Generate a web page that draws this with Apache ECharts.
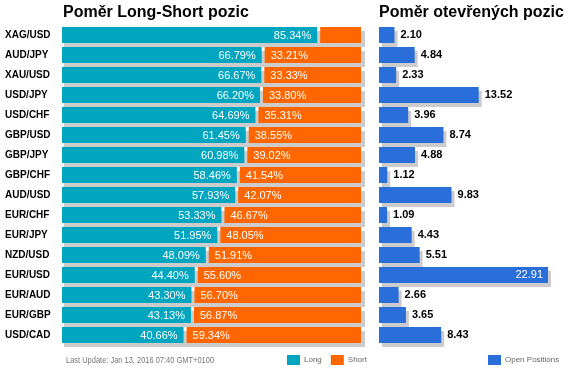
<!DOCTYPE html>
<html><head><meta charset="utf-8">
<script src="https://cdn.jsdelivr.net/npm/echarts@6/dist/echarts.min.js"></script>
<style>html,body{margin:0;padding:0;background:#fff}#c{width:569px;height:371px}</style>
</head><body><div id="c"></div>
<script>
var pairs = ['XAG/USD','AUD/JPY','XAU/USD','USD/JPY','USD/CHF','GBP/USD','GBP/JPY','GBP/CHF','AUD/USD','EUR/CHF','EUR/JPY','NZD/USD','EUR/USD','EUR/AUD','EUR/GBP','USD/CAD'];
var longPct = [85.34,66.79,66.67,66.20,64.69,61.45,60.98,58.46,57.93,53.33,51.95,48.09,44.40,43.30,43.13,40.66];
var shortPct = [14.66,33.21,33.33,33.80,35.31,38.55,39.02,41.54,42.07,46.67,48.05,51.91,55.60,56.70,56.87,59.34];
var openPos = [2.10,4.84,2.33,13.52,3.96,8.74,4.88,1.12,9.83,1.09,4.43,5.51,22.91,2.66,3.65,8.43];

var TEAL = '#00A5C0', ORANGE = '#FF6600', BLUE = '#2A6FD9', SHADOW = '#CCCCCC';
var FONT = 'Liberation Sans, Arial, sans-serif';

var lsData = pairs.map(function(p, i){ return [i, longPct[i], shortPct[i]]; });
var maxOpen = Math.max.apply(null, openPos);

var chart = echarts.init(document.getElementById('c'), null, {renderer:'canvas'});
chart.setOption({
  animation: false,
  title: [
    {text: 'Poměr Long-Short pozic', left: 63, top: 5, padding: 0, textStyle: {fontFamily: FONT, fontSize: 16, fontWeight: 'bold', color: '#000'}},
    {text: 'Poměr otevřených pozic', left: 379, top: 5, padding: 0, textStyle: {fontFamily: FONT, fontSize: 16, fontWeight: 'bold', color: '#000'}}
  ],
  legend: [
    {data: ['Long', 'Short'], left: 287, top: 355, padding: 0, itemWidth: 13, itemHeight: 10, itemGap: 9, icon: 'rect',
     textStyle: {fontFamily: FONT, fontSize: 8, color: '#666', padding: [0,0,0,-1]}},
    {data: ['Open Positions'], left: 488, top: 355, padding: 0, itemWidth: 13, itemHeight: 10, icon: 'rect',
     textStyle: {fontFamily: FONT, fontSize: 8, color: '#666', padding: [0,0,0,-1]}}
  ],
  graphic: [
    {type: 'text', x: 66, y: 356, scaleX: 0.83, style: {text: 'Last Update: Jan 13, 2016 07:40 GMT+0100', fontFamily: FONT, fontSize: 9, fill: '#777'}}
  ],
  grid: [
    {left: 62, top: 25, width: 299, height: 320},
    {left: 379, top: 25, width: 169, height: 320}
  ],
  xAxis: [
    {gridIndex: 0, type: 'value', min: 0, max: 100, show: false},
    {gridIndex: 1, type: 'value', min: 0, max: maxOpen, show: false}
  ],
  yAxis: [
    {gridIndex: 0, type: 'category', data: pairs, inverse: true,
     axisLine: {show: false}, axisTick: {show: false}, splitLine: {show: false},
     axisLabel: {align: 'left', margin: 57, fontFamily: FONT, fontSize: 10, fontWeight: 'bold', color: '#000'}},
    {gridIndex: 1, type: 'category', data: pairs, inverse: true, show: false}
  ],
  series: [
    {name: 'Long', type: 'custom', xAxisIndex: 0, yAxisIndex: 0, data: lsData, itemStyle: {color: TEAL},
     encode: {x: [1, 2], y: 0},
     renderItem: function(params, api){
       var idx = api.value(0), lv = api.value(1), sv = api.value(2);
       var p0 = api.coord([0, idx]);
       var pl = api.coord([lv, idx]);
       var pe = api.coord([lv + sv, idx]);
       var h = api.size([0, 1])[1] * 0.8;
       var y = p0[1] - h / 2;
       var children = [
         {type: 'rect', shape: {x: p0[0] + 2, y: y + 4, width: pe[0] - p0[0] + 2, height: h}, style: {fill: SHADOW}},
         {type: 'rect', shape: {x: p0[0], y: y, width: pl[0] - p0[0], height: h}, style: {fill: TEAL}},
         {type: 'rect', shape: {x: pl[0] + 3, y: y, width: pe[0] - pl[0] - 3, height: h}, style: {fill: ORANGE}},
         {type: 'text', x: pl[0] - 6, y: p0[1] + 1, style: {text: lv.toFixed(2) + '%', align: 'right', verticalAlign: 'middle', fill: '#fff', fontFamily: FONT, fontSize: 11}}
       ];
       if (sv >= 20) {
         children.push({type: 'text', x: pl[0] + 9, y: p0[1] + 1, style: {text: sv.toFixed(2) + '%', align: 'left', verticalAlign: 'middle', fill: '#fff', fontFamily: FONT, fontSize: 11}});
       }
       return {type: 'group', children: children};
     }},
    {name: 'Short', type: 'bar', xAxisIndex: 0, yAxisIndex: 0, data: [], itemStyle: {color: ORANGE}},
    {name: 'Open Positions', type: 'bar', xAxisIndex: 1, yAxisIndex: 1, barWidth: 16,
     data: openPos.map(function(v){
       return v === maxOpen ? {value: v, label: {position: 'insideRight', distance: 5, color: '#fff', fontWeight: 'normal'}} : v;
     }),
     itemStyle: {color: BLUE, shadowColor: SHADOW, shadowBlur: 0, shadowOffsetX: 3, shadowOffsetY: 4},
     label: {show: true, position: 'right', distance: 6, fontFamily: FONT, fontSize: 11, fontWeight: 'bold', color: '#000',
             formatter: function(p){ return p.value.toFixed(2); }}}
  ]
});
</script></body></html>
